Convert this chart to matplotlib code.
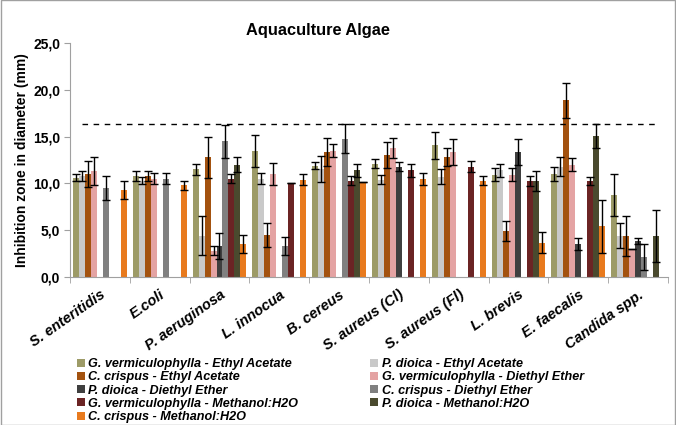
import numpy as np
import matplotlib
matplotlib.use("Agg")
import matplotlib.pyplot as plt
from matplotlib.ticker import FuncFormatter, FixedLocator
from matplotlib.patches import Rectangle

plt.rcParams["font.family"] = ["Liberation Sans", "DejaVu Sans"]

categories = ["S. enteritidis", "E.coli", "P. aeruginosa", "L. innocua", "B. cereus",
              "S. aureus (Cl)", "S. aureus (Fl)", "L. brevis", "E. faecalis", "Candida spp."]

series_names = [
    "G. vermiculophylla - Ethyl Acetate",
    "P. dioica - Ethyl Acetate",
    "C. crispus - Ethyl Acetate",
    "G. vermiculophylla - Diethyl Ether",
    "P. dioica - Diethyl Ether",
    "C. crispus - Diethyl Ether",
    "G. vermiculophylla - Methanol:H2O",
    "P. dioica - Methanol:H2O",
    "C. crispus - Methanol:H2O",
]

gv_ea = [10.6, 10.8, 11.5, 13.5, 11.9, 12.1, 14.1, 10.9, 11.0, 8.75]
gv_ea_err = [0.4, 0.5, 0.6, 1.7, 0.4, 0.5, 1.45, 0.7, 0.8, 2.25]
pd_ea = [10.8, 10.3, 4.4, 10.5, 11.5, 10.4, 10.7, 11.4, 11.8, 4.4]
pd_ea_err = [0.5, 0.4, 2.1, 0.6, 1.4, 0.5, 0.8, 0.7, 1.0, 1.3]
cc_ea = [11.0, 10.8, 12.8, 4.5, 13.4, 13.0, 12.8, 4.9, 18.9, 4.35]
cc_ea_err = [1.4, 0.5, 2.2, 1.3, 1.5, 1.4, 0.95, 1.05, 1.9, 2.1]
gv_de = [11.3, 10.5, 2.8, 11.0, 13.5, 13.8, 13.4, 10.9, 12.0, 3.0]
gv_de_err = [1.5, 0.6, 0.5, 1.2, 0.7, 1.05, 1.4, 0.7, 0.7, 0.0]
pd_de = [0, 0, 3.3, 0, 0, 11.8, 0, 13.4, 3.5, 3.8]
pd_de_err = [0, 0, 1.4, 0, 0, 0.5, 0, 1.4, 0.6, 0.35]
cc_de = [9.5, 10.5, 14.5, 3.3, 14.8, 0, 0, 0, 0, 2.1]
cc_de_err = [1.3, 0.6, 1.8, 1.0, 1.6, 0, 0, 0, 0, 1.4]
gv_mw = [0, 0, 10.5, 10.0, 10.3, 11.4, 11.8, 10.25, 10.25, 0]
gv_mw_err = [0, 0, 0.5, 0.0, 0.5, 0.7, 0.55, 0.55, 0.45, 0]
pd_mw = [0, 0, 12.0, 0, 11.4, 0, 0, 10.25, 15.1, 4.35]
pd_mw_err = [0, 0, 0.8, 0, 0.7, 0, 0, 1.05, 1.3, 2.8]
cc_mw = [9.3, 9.8, 3.5, 10.4, 10.1, 10.5, 10.3, 3.65, 5.4, 0]
cc_mw_err = [1.0, 0.5, 1.0, 0.6, 0.0, 0.65, 0.5, 1.1, 2.85, 0]

threshold = 16.4

values = [gv_ea, pd_ea, cc_ea, gv_de, pd_de, cc_de, gv_mw, pd_mw, cc_mw]
errors = [gv_ea_err, pd_ea_err, cc_ea_err, gv_de_err, pd_de_err, cc_de_err, gv_mw_err, pd_mw_err, cc_mw_err]
colors = ["#9D9B67", "#C9C9C9", "#A3520F", "#E4A3A3", "#3F3F3F",
          "#808080", "#6B2424", "#4A4A2E", "#E87A1E"]

fig = plt.figure(figsize=(6.76, 4.25), dpi=100)
ax = fig.add_axes([0.1036, 0.349, 0.8844, 0.549])

x = np.arange(len(categories))
width = 0.1
handles = []
for i, (vals, errs) in enumerate(zip(values, errors)):
    vals = np.array(vals, dtype=float)
    errs = np.array(errs, dtype=float)
    pos = x - 0.4 + i * width
    b = ax.bar(pos, vals, width, color=colors[i], label=series_names[i], zorder=2)
    handles.append(b)
    m = vals > 0
    ax.errorbar(pos[m], vals[m], yerr=errs[m], fmt="none", ecolor="black",
                elinewidth=1, capsize=3, capthick=1, zorder=3)

ax.axhline(threshold, xmin=0.02, xmax=0.98, color="black", linestyle=(0, (4, 4)), linewidth=1)

ax.set_xlim(-0.5, len(categories) - 0.5)
ax.set_ylim(0, 25)
ax.set_yticks(np.arange(0, 26, 5))
ax.yaxis.set_major_formatter(FuncFormatter(lambda v, p: f"{v:.1f}".replace(".", ",")))
for lab in ax.get_yticklabels():
    lab.set_fontweight("bold")
    lab.set_fontsize(10)
ax.tick_params(axis="y", length=4, color="#A0A0A0", pad=3)

ax.set_xticks(x)
ax.set_xticklabels(categories, rotation=35, ha="right", rotation_mode="anchor",
                   fontsize=10.5, fontweight="bold", fontstyle="italic")
ax.tick_params(axis="x", which="major", length=0, pad=8)
ax.xaxis.set_minor_locator(FixedLocator(np.arange(-0.5, len(categories), 1)))
ax.tick_params(axis="x", which="minor", length=4, color="#A0A0A0")

for s in ["top", "right"]:
    ax.spines[s].set_visible(False)
for s in ["left", "bottom"]:
    ax.spines[s].set_color("#A0A0A0")

ax.set_ylabel("Inhibition zone in diameter (mm)", fontsize=10, fontweight="bold")
ax.yaxis.set_label_coords(-41 / 598, 0.5)
fig.text(318 / 676, 1 - 30 / 425, "Aquaculture Algae", ha="center", va="center",
         fontsize=11.8, fontweight="bold")

order = [0, 2, 4, 6, 8, 1, 3, 5, 7]
leg = fig.legend([handles[k] for k in order], [series_names[k] for k in order],
                 ncol=2, loc="upper left", bbox_to_anchor=(77 / 676, 1 - 358 / 425),
                 frameon=False, handlelength=0.6, handleheight=0.6, handletextpad=0.3,
                 labelspacing=0.1, columnspacing=5.7, borderpad=0, borderaxespad=0,
                 prop={"size": 9.1, "weight": "bold", "style": "italic"})

fig.patches.append(Rectangle((0.001, 0.001), 0.998, 0.998, transform=fig.transFigure,
                             fill=False, edgecolor="#A0A0A0", linewidth=1))

fig.savefig("out.png", dpi=100)
